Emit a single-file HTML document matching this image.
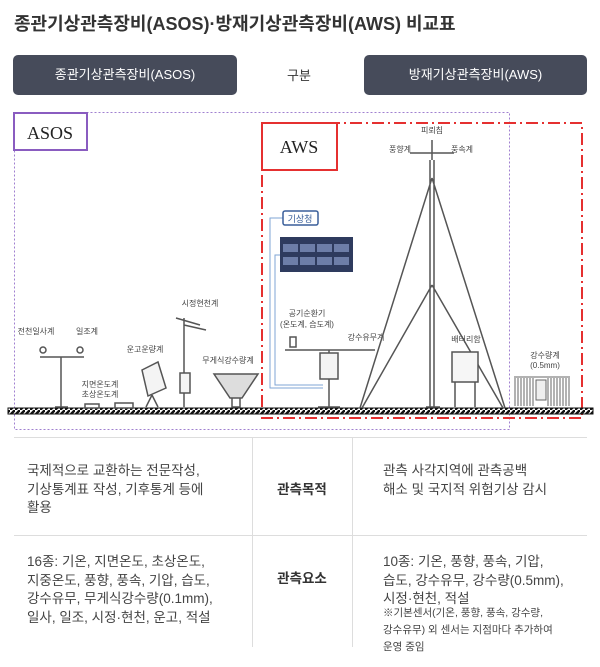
<!DOCTYPE html>
<html><head><meta charset="utf-8"><style>
*{margin:0;padding:0;box-sizing:border-box}
body{width:600px;height:667px;background:#fff;font-family:"Liberation Sans","Noto Sans CJK KR",sans-serif;color:#333;position:relative;overflow:hidden}
.t{position:absolute;white-space:nowrap}
.btn{position:absolute;top:55px;height:40px;background:#464b5a;border-radius:5px;color:#fff;font-size:13px;line-height:40px;text-align:center}
.cell{position:absolute;font-size:13.5px;line-height:18.5px;color:#444;white-space:nowrap}
.lbl{position:absolute;font-size:13.5px;font-weight:bold;color:#333;width:100px;text-align:center}
.hl{position:absolute;height:1px;background:#ddd}
.vl{position:absolute;width:1px;background:#ddd}
</style></head><body>
<div class="t" style="left:14px;top:10px;font-size:18px;font-weight:bold;color:#333">종관기상관측장비(ASOS)·방재기상관측장비(AWS) 비교표</div>
<div class="btn" style="left:13px;width:224px">종관기상관측장비(ASOS)</div>
<div class="t" style="left:287px;top:65px;font-size:13px;color:#333">구분</div>
<div class="btn" style="left:364px;width:223px">방재기상관측장비(AWS)</div>

<svg style="position:absolute;left:0;top:100px" width="600" height="335" viewBox="0 100 600 335" font-family="Liberation Sans, Noto Sans CJK KR, sans-serif">
<defs><pattern id="h" width="5" height="5" patternUnits="userSpaceOnUse"><rect width="5" height="5" fill="#fff"/><path d="M0 5L5 0" stroke="#111" stroke-width="2.5"/></pattern></defs>
<rect x="14.5" y="112.5" width="495" height="317" fill="none" stroke="#a080d0" stroke-width="1" stroke-dasharray="2,2"/>
<rect x="14" y="113" width="73" height="37" fill="#fff" stroke="#8a5cc0" stroke-width="2"/>
<text x="50" y="139" font-family="Liberation Serif,serif" font-size="18" text-anchor="middle" fill="#222">ASOS</text>
<rect x="262" y="123" width="320" height="295" fill="none" stroke="#e53030" stroke-width="2" stroke-dasharray="12,4,2,4"/>
<rect x="262" y="123" width="75" height="47" fill="#fff" stroke="#e53030" stroke-width="2"/>
<text x="299" y="153" font-family="Liberation Serif,serif" font-size="18" text-anchor="middle" fill="#222">AWS</text>
<rect x="8" y="408" width="585" height="6" fill="url(#h)" stroke="#111" stroke-width="1"/>
<g fill="#444" font-size="8" text-anchor="middle">
<text x="36" y="334">전천일사계</text><text x="87" y="334">일조계</text>
<text x="100" y="387">지면온도계</text><text x="100" y="397">초상온도계</text>
<text x="145" y="352">운고운량계</text><text x="200" y="306">시정현천계</text>
<text x="228" y="363">무게식강수량계</text>
<text x="432" y="133">피뢰침</text><text x="400" y="152">풍향계</text><text x="462" y="152">풍속계</text>
<text x="307" y="316">공기순환기</text><text x="307" y="327">(온도계, 습도계)</text>
<text x="366" y="340">강수유무계</text><text x="466" y="342">배터리함</text>
<text x="545" y="358">강수량계</text><text x="545" y="368">(0.5mm)</text>
</g>
<g stroke="#555" fill="none" stroke-width="1.5">
<path d="M40 357H84M61 357V407M55 407H68"/><circle cx="43" cy="350" r="3"/><circle cx="80" cy="350" r="3"/>
<rect x="85" y="404" width="14" height="4"/><rect x="115" y="403" width="18" height="5"/>
<path d="M142 370L158 362L166 388L148 396Z" fill="#f4f4f4"/><path d="M152 395L146 407M152 395L158 407"/>
<path d="M184 318V407M176 318L200 325M184 325L206 330"/><rect x="180" y="373" width="10" height="20" fill="#f4f4f4"/>
<path d="M214 374H258L242 398H230Z" fill="#ddd"/><path d="M232 398V407H240V398"/>
<path d="M285 350H375M329 350V407M318 407H340"/><rect x="320" y="353" width="18" height="26" fill="#f4f4f4"/>
<rect x="290" y="337" width="6" height="10"/>
<path d="M430 160V407M434 160V407M432 178L360 408M432 178L505 408M432 285L362 408M432 285L503 408M410 153H454M432 140V160"/>
<path d="M426 407H440"/>
<rect x="452" y="352" width="26" height="30" fill="#f6f6f6"/><path d="M455 382V407M475 382V407"/>
</g>
<path d="M283 218H270V388H323M288 255H275V385H323" stroke="#7fa6d6" fill="none" stroke-width="1"/>
<rect x="283" y="211" width="35" height="14" rx="2" fill="#fff" stroke="#3a5f9a" stroke-width="1.5"/>
<text x="300" y="222" font-size="9" text-anchor="middle" fill="#3a5f9a">기상청</text>
<rect x="280" y="237" width="73" height="35" fill="#2e3b5e"/>
<g fill="#6d7ea8"><rect x="283" y="244" width="15" height="8"/><rect x="300" y="244" width="15" height="8"/><rect x="317" y="244" width="15" height="8"/><rect x="334" y="244" width="15" height="8"/><rect x="283" y="257" width="15" height="8"/><rect x="300" y="257" width="15" height="8"/><rect x="317" y="257" width="15" height="8"/><rect x="334" y="257" width="15" height="8"/></g>
<g stroke="#666" stroke-width="1"><path d="M515 378V406M518 378V406M521 378V406M524 378V406M527 378V406M530 378V406M533 378V406M548 378V406M551 378V406M554 378V406M557 378V406M560 378V406M563 378V406M566 378V406M569 378V406"/><path d="M514 377H570"/><rect x="536" y="380" width="10" height="20" fill="#eee"/></g>
</svg>

<div class="hl" style="left:14px;top:437px;width:573px"></div>
<div class="hl" style="left:14px;top:535px;width:573px"></div>
<div class="vl" style="left:252px;top:437px;height:210px"></div>
<div class="vl" style="left:352px;top:437px;height:210px"></div>
<div class="cell" style="left:27px;top:462px">국제적으로 교환하는 전문작성,<br>기상통계표 작성, 기후통계 등에<br>활용</div>
<div class="lbl" style="left:252px;top:478px">관측목적</div>
<div class="cell" style="left:383px;top:462px">관측 사각지역에 관측공백<br>해소 및 국지적 위험기상 감시</div>
<div class="cell" style="left:27px;top:553px">16종: 기온, 지면온도, 초상온도,<br>지중온도, 풍향, 풍속, 기압, 습도,<br>강수유무, 무게식강수량(0.1mm),<br>일사, 일조, 시정·현천, 운고, 적설</div>
<div class="lbl" style="left:252px;top:567px">관측요소</div>
<div class="cell" style="left:383px;top:553px">10종: 기온, 풍향, 풍속, 기압,<br>습도, 강수유무, 강수량(0.5mm),<br>시정·현천, 적설</div>
<div class="cell" style="left:383px;top:605px;font-size:10.5px;line-height:17px">※기본센서(기온, 풍향, 풍속, 강수량,<br>강수유무) 외 센서는 지점마다 추가하여<br>운영 중임</div>
</body></html>
